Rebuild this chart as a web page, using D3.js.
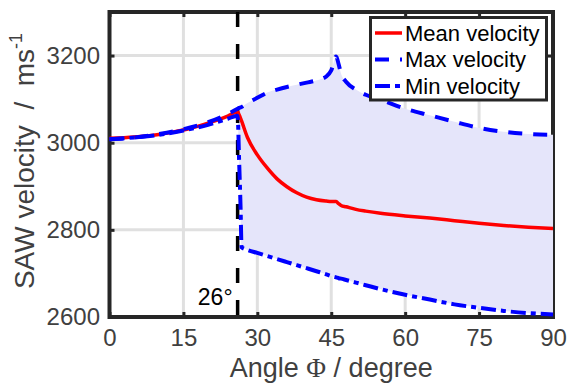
<!DOCTYPE html>
<html><head><meta charset="utf-8">
<script src="https://cdn.jsdelivr.net/npm/d3@7"></script>
<style>body{margin:0;background:#fff} svg{display:block}</style>
</head><body><svg id="c" width="567" height="386"></svg>
<script>
const angles        = [0,5,10,15,20,24,26,26.3,26.6,26.8,28,30,32,34,36,38,40,42,44,45,46,46.5,47,48,50,52,55,60,65,70,75,80,85,90];
const meanVelocity  = [3010,3013,3019,3029,3045,3061,3071,3064,3056,3050,3012,2972,2942,2917,2899,2885,2875,2869,2866,2865,2865,2860,2856,2853,2847,2843,2838,2832,2827,2821,2815,2810,2806,2803];
const maxVelocity   = [3008,3012,3020,3031,3047,3066,3078,3080,3081,3082,3091,3103,3115,3122,3128,3133,3138,3143,3152,3166,3198,3180,3158,3140,3122,3110,3099,3078,3063,3048,3034,3025,3020,3018];
const minVelocity   = [3008,3012,3018,3028,3041,3055,3062,2960,2850,2760,2754,2747,2740,2733,2726,2719,2712,2705,2698,2694,2691,2689,2688,2685,2679,2673,2664,2651,2640,2629,2621,2614,2609,2606];
const xTicks = [0,15,30,45,60,75,90];
const yTicks = [2600,2800,3000,3200];
const seriesNames = ["Mean velocity","Max velocity","Min velocity"];
const markerAngle = 26;

const L=109.5,R=553,T=12,B=317;
const x = d3.scaleLinear().domain([0,90]).range([L,R]);
const y = d3.scaleLinear().domain([2600,3300]).range([B,T]);
const svg = d3.select("#c");
const font = "'Liberation Sans', Arial, Helvetica, sans-serif";
const axisCol = "#262626", labCol = "#404040";

// grid
const grid = svg.append("g");
grid.selectAll(".vg").data(xTicks).join("line")
  .attr("x1",d=>x(d)).attr("x2",d=>x(d)).attr("y1",T).attr("y2",B)
  .attr("stroke","#e0e0e0").attr("stroke-width",3);
grid.selectAll(".hg").data(yTicks).join("line")
  .attr("x1",L).attr("x2",R).attr("y1",d=>y(d)).attr("y2",d=>y(d))
  .attr("stroke","#e0e0e0").attr("stroke-width",3);

// axes
function styleAxis(sel, labels){
  sel.select(".domain").remove();
  sel.attr("font-family",null).attr("font-size",null);
  sel.selectAll(".tick line").attr("stroke",axisCol).attr("stroke-width",3);
  sel.selectAll(".tick text").attr("fill",labCol).style("font-family",font).style("font-size","24px");
  if(!labels) sel.selectAll(".tick text").remove();
}
const fmt = d3.format("d");
svg.append("g").attr("transform",`translate(0,${B})`)
  .call(d3.axisBottom(x).tickValues(xTicks).tickFormat(fmt).tickSize(-5).tickPadding(12)).call(s=>styleAxis(s,true));
svg.append("g").attr("transform",`translate(0,${T})`)
  .call(d3.axisTop(x).tickValues(xTicks).tickSize(-5)).call(s=>styleAxis(s,false));
svg.append("g").attr("transform",`translate(${L},0)`)
  .call(d3.axisLeft(y).tickValues(yTicks).tickFormat(fmt).tickSize(-5).tickPadding(9.5)).call(s=>styleAxis(s,true));
svg.append("g").attr("transform",`translate(${R},0)`)
  .call(d3.axisRight(y).tickValues(yTicks).tickSize(-5)).call(s=>styleAxis(s,false));

svg.append("rect").attr("x",L).attr("y",T).attr("width",R-L).attr("height",B-T)
  .attr("fill","none").attr("stroke",axisCol).attr("stroke-width",4);

const data = angles.map((a,i)=>({a, mean:meanVelocity[i], max:maxVelocity[i], min:minVelocity[i]}));
const curve = d3.curveMonotoneX;

// fill
svg.append("path").datum(data)
  .attr("d", d3.area().curve(curve).x(d=>x(d.a)).y0(d=>y(d.min)).y1(d=>y(d.max)))
  .attr("fill","#e5e5fa");

// marker line
svg.append("line").attr("x1",x(markerAngle)).attr("x2",x(markerAngle)).attr("y1",T).attr("y2",B)
  .attr("stroke","#000").attr("stroke-width",3.5).attr("stroke-dasharray","15,17");

const line = k => d3.line().curve(curve).x(d=>x(d.a)).y(d=>y(d[k]));
svg.append("path").datum(data).attr("d",line("mean")).attr("fill","none")
  .attr("stroke","#ff0000").attr("stroke-width",3.5);
svg.append("path").datum(data).attr("d",line("max")).attr("fill","none")
  .attr("stroke","#0000ff").attr("stroke-width",4).attr("stroke-dasharray","14,11");
svg.append("path").datum(data).attr("d",line("min")).attr("fill","none")
  .attr("stroke","#0000ff").attr("stroke-width",4).attr("stroke-dasharray","15,5,5,5");

// marker label
svg.append("text").attr("x",x(markerAngle)-5).attr("y",305).attr("text-anchor","end")
  .style("font-family",font).style("font-size","23px").attr("fill","#000").text(markerAngle+"°");

// legend
const lg = svg.append("g");
lg.append("rect").attr("x",370.5).attr("y",17.5).attr("width",176).attr("height",82.5)
  .attr("fill","#fff").attr("stroke",axisCol).attr("stroke-width",3);
const styles = [{c:"#ff0000",d:null,w:3.5},{c:"#0000ff",d:"14,11",w:4},{c:"#0000ff",d:"15,5,5,5",w:4}];
seriesNames.forEach((n,i)=>{
  const yy = 33 + i*26.5;
  lg.append("line").attr("x1",375).attr("x2",402).attr("y1",yy).attr("y2",yy)
    .attr("stroke",styles[i].c).attr("stroke-width",styles[i].w).attr("stroke-dasharray",styles[i].d);
  lg.append("text").attr("x",405).attr("y",yy).attr("dy","0.35em")
    .style("font-family",font).style("font-size","22px").attr("fill","#000").text(n);
});

// axis labels
const xl = svg.append("text").attr("x",(L+R)/2).attr("y",377).attr("text-anchor","middle")
  .style("font-family",font).style("font-size","27px").attr("fill",labCol).style("white-space","pre");
xl.append("tspan").text("Angle ");
xl.append("tspan").style("font-family","'Liberation Serif','DejaVu Serif',serif").text("Φ");
xl.append("tspan").text(" / degree");

const yl = svg.append("text").attr("transform",`translate(34,161) rotate(-90)`).attr("text-anchor","middle")
  .style("font-family",font).style("font-size","28px").attr("fill",labCol).style("white-space","pre");
yl.append("tspan").text("SAW velocity  /  ms");
yl.append("tspan").attr("dy",-12).style("font-size","18px").text("-1");
</script></body></html>
